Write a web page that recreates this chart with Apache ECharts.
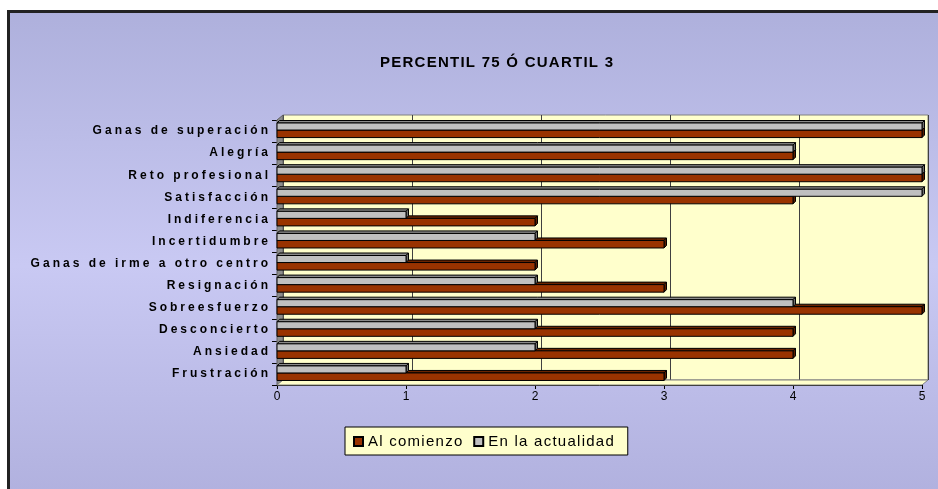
<!DOCTYPE html>
<html>
<head>
<meta charset="utf-8">
<script src="https://cdn.jsdelivr.net/npm/echarts@6/dist/echarts.min.js"></script>
<style>
  html, body { margin: 0; padding: 0; background: #ffffff; }
  #chart { position: absolute; left: 0; top: 0; width: 938px; height: 489px; }
</style>
</head>
<body>
<div id="chart"></div>
<script>
// Categories listed from top row to bottom row
const categories = [
  'Ganas de superación', 'Alegría', 'Reto profesional', 'Satisfacción',
  'Indiferencia', 'Incertidumbre', 'Ganas de irme a otro centro', 'Resignación',
  'Sobreesfuerzo', 'Desconcierto', 'Ansiedad', 'Frustración'
];
const alComienzo      = [5, 4, 5, 4, 2, 3, 2, 3, 5, 4, 4, 3];
const enLaActualidad  = [5, 4, 5, 5, 1, 2, 1, 2, 4, 2, 2, 1];
const seriesNames = ['Al comienzo', 'En la actualidad'];
const xTickValues = [0, 1, 2, 3, 4, 5];
const titleText = 'PERCENTIL 75 Ó CUARTIL 3';

// Layout of the pseudo-3D plot box
const FRONT = { left: 277, top: 120, width: 645, height: 265 };
const DEPTH = { dx: 6, dy: -5 };
const CW = 938, CH = 489;

const chart = echarts.init(document.getElementById('chart'), null, { renderer: 'canvas' });

// Widen text by putting a narrow space between characters
function spaced(s, gap) { return s.split('').join(gap); }

// Draw a bar as a front face plus a top face and an end face
function barRenderer(relTop, relBottom, face, topFace, endFace) {
  return function (params, api) {
    const v = api.value(0);
    const idx = api.value(1);
    const start = api.coord([0, idx]);
    const end = api.coord([v, idx]);
    const band = api.size([0, 1])[1];
    const k = band / 22;
    const x0 = start[0], x1 = end[0];
    const y0 = end[1] + relTop * k, y1 = end[1] + relBottom * k;
    const d = 2.5;
    return {
      type: 'group',
      children: [
        { type: 'polygon', shape: { points: [[x0, y0], [x0 + d, y0 - d], [x1 + d, y0 - d], [x1, y0]] },
          style: { fill: topFace, stroke: '#000', lineWidth: 1 } },
        { type: 'polygon', shape: { points: [[x1, y0], [x1 + d, y0 - d], [x1 + d, y1 - d], [x1, y1]] },
          style: { fill: endFace, stroke: '#000', lineWidth: 1 } },
        { type: 'rect', shape: { x: x0, y: y0, width: x1 - x0, height: y1 - y0 },
          style: { fill: face, stroke: '#000', lineWidth: 1 } }
      ]
    };
  };
}

const frontX = FRONT.left, frontY = FRONT.top, fw = FRONT.width, fh = FRONT.height;
const bx = frontX + DEPTH.dx, by = frontY + DEPTH.dy;

const option = {
  backgroundColor: '#ffffff',
  animation: false,
  title: {
    text: spaced(titleText, '\u200A'),
    left: 375, top: 50,
    textStyle: { fontFamily: 'Liberation Sans, Arial, sans-serif', fontSize: 15, fontWeight: 'bold', color: '#000' }
  },
  legend: {
    data: seriesNames,
    left: 345, top: 427,
    padding: [7, 14, 6, 8],
    itemWidth: 9, itemHeight: 9, itemGap: 11,
    icon: 'rect',
    backgroundColor: '#ffffcc',
    borderColor: '#000', borderWidth: 1,
    formatter: function (n) { return spaced(n, '\u200A'); },
    textStyle: { fontFamily: 'Liberation Sans, Arial, sans-serif', fontSize: 15, color: '#000' }
  },
  graphic: [
    { // outer frame with soft vertical gradient
      type: 'rect', z: -10, silent: true,
      shape: { x: 8.5, y: 11.5, width: CW + 20, height: CH + 20 },
      style: {
        fill: new echarts.graphic.LinearGradient(0, 0, 0, 1, [
          { offset: 0, color: '#aeb0dc' },
          { offset: 0.5, color: '#c9c9f3' },
          { offset: 1, color: '#aeaedc' }
        ]),
        stroke: '#222', lineWidth: 3
      }
    },
    { // left side wall
      type: 'polygon', z: 1, silent: true,
      shape: { points: [[frontX, frontY], [bx, by], [bx, by + fh], [frontX, frontY + fh]] },
      style: { fill: '#8c8c8c', stroke: '#606060', lineWidth: 1 }
    },
    { // floor
      type: 'polygon', z: 1, silent: true,
      shape: { points: [[frontX, frontY + fh], [bx, by + fh], [bx + fw, by + fh], [frontX + fw, frontY + fh]] },
      style: { fill: '#ffffcc', stroke: '#808080', lineWidth: 1 }
    }
  ],
  grid: [
    { left: frontX, top: frontY, width: fw, height: fh, containLabel: false },
    { left: bx, top: by, width: fw, height: fh, show: true, backgroundColor: '#ffffcc',
      borderColor: '#808080', borderWidth: 1 }
  ],
  xAxis: [
    {
      gridIndex: 0, type: 'value', min: xTickValues[0], max: xTickValues[xTickValues.length - 1], interval: 1,
      axisLine: { show: true, lineStyle: { color: '#000', width: 1 } },
      axisTick: { show: true, length: 4, lineStyle: { color: '#000' } },
      axisLabel: { margin: 6, fontFamily: 'Liberation Sans, Arial, sans-serif', fontSize: 12, color: '#000' },
      splitLine: { show: false }
    },
    {
      gridIndex: 1, type: 'value', min: xTickValues[0], max: xTickValues[xTickValues.length - 1], interval: 1,
      axisLine: { show: false }, axisTick: { show: false }, axisLabel: { show: false },
      splitLine: { show: true, lineStyle: { color: '#404040', width: 1 } }
    }
  ],
  yAxis: [
    {
      gridIndex: 0, type: 'category', data: categories, inverse: true,
      axisLine: { show: true, lineStyle: { color: '#000', width: 1 } },
      axisTick: { show: true, length: 5, lineStyle: { color: '#000' } },
      axisLabel: {
        margin: 9, fontFamily: 'Liberation Sans, Arial, sans-serif', fontSize: 12, fontWeight: 'bold', color: '#000',
        formatter: function (n) { return spaced(n, '\u2005'); }
      },
      splitLine: { show: false }
    },
    { gridIndex: 1, type: 'category', data: categories, inverse: true, show: false }
  ],
  series: [
    {
      name: seriesNames[0], type: 'custom', xAxisIndex: 0, yAxisIndex: 0, z: 3,
      itemStyle: { color: '#993300', borderColor: '#000', borderWidth: 1 },
      encode: { x: 0, y: 1 },
      data: alComienzo.map(function (v, i) { return [v, i]; }),
      renderItem: barRenderer(-1, 6.5, '#993300', '#6b2400', '#5a1e00')
    },
    {
      name: seriesNames[1], type: 'custom', xAxisIndex: 0, yAxisIndex: 0, z: 4,
      itemStyle: { color: '#c0c0c0', borderColor: '#000', borderWidth: 1 },
      encode: { x: 0, y: 1 },
      data: enLaActualidad.map(function (v, i) { return [v, i]; }),
      renderItem: barRenderer(-8, -1, '#c0c0c0', '#8a8a8a', '#707070')
    }
  ]
};

chart.setOption(option);
</script>
</body>
</html>
